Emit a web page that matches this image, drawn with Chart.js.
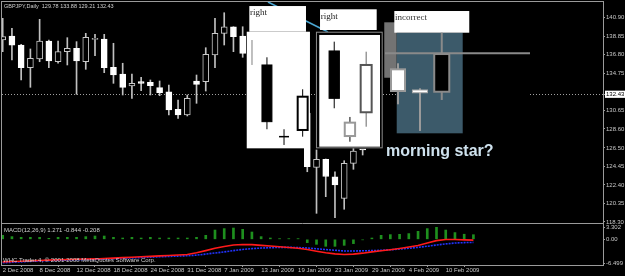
<!DOCTYPE html>
<html>
<head>
<meta charset="utf-8">
<title>GBPJPY Daily</title>
<script src="https://cdn.jsdelivr.net/npm/chart.js@4.4.1/dist/chart.umd.min.js"></script>
<style>
  html, body { margin: 0; padding: 0; background: #000; }
  #chart { display: block; }
</style>
</head>
<body>
<canvas id="chart" width="625" height="276"></canvas>
<script>
// Даты баров
const dates = [
  "2 Dec 2008", "3 Dec 2008", "4 Dec 2008", "5 Dec 2008", "8 Dec 2008", "9 Dec 2008",
  "10 Dec 2008", "11 Dec 2008", "12 Dec 2008", "15 Dec 2008", "16 Dec 2008", "17 Dec 2008",
  "18 Dec 2008", "19 Dec 2008", "22 Dec 2008", "23 Dec 2008", "24 Dec 2008", "26 Dec 2008",
  "29 Dec 2008", "30 Dec 2008", "31 Dec 2008", "2 Jan 2009", "5 Jan 2009", "6 Jan 2009",
  "7 Jan 2009", "8 Jan 2009", "9 Jan 2009", "12 Jan 2009", "13 Jan 2009", "14 Jan 2009",
  "15 Jan 2009", "16 Jan 2009", "19 Jan 2009", "20 Jan 2009", "21 Jan 2009", "22 Jan 2009",
  "23 Jan 2009", "26 Jan 2009", "27 Jan 2009", "28 Jan 2009", "29 Jan 2009", "30 Jan 2009",
  "2 Feb 2009", "3 Feb 2009", "4 Feb 2009", "5 Feb 2009", "6 Feb 2009", "9 Feb 2009",
  "10 Feb 2009", "11 Feb 2009", "12 Feb 2009", "13 Feb 2009"
];

// Свечи (null - бар закрыт вставленными картинками)
const open = [
  138.43, 138.88, 137.88, 135.37, 136.33, 138.32, 136.03, 137.14, 137.52, 136.03,
  138.51, 138.54, 135.41, 134.67, 133.34, 133.82, 133.75, 133.16, 132.71, 130.77,
  130.14, 133.90, 133.82, 136.77, 139.17, 139.90, 138.88,
  null, null, null, null, null, null,
  130.36, 124.35, 125.24, 123.31, 120.92, 124.79, 126.27,
  null, null, null, null, null, null, null, null, null, null, null, null
];
const high = [
  140.83, 139.73, 137.96, 137.44, 140.72, 138.43, 138.32, 138.69, 138.25, 139.17,
  139.06, 139.06, 138.07, 135.86, 134.67, 134.31, 134.01, 133.90, 133.46, 131.80,
  132.35, 134.56, 137.58, 140.83, 141.45, 139.90, 139.90,
  null, null, null, null, null, null,
  130.69, 126.27, 125.27, 123.86, 125.08, 126.45, 126.27,
  null, null, null, null, null, null, null, null, null, null, null, null
];
const low = [
  137.14, 136.22, 134.01, 133.20, 136.03, 135.37, 135.86, 135.67, 132.43, 135.19,
  136.70, 134.82, 133.64, 132.35, 131.98, 132.82, 132.35, 132.27, 130.14, 129.77,
  130.03, 131.43, 132.79, 135.37, 137.88, 137.14, 136.52,
  null, null, null, null, null, null,
  123.86, 119.26, 121.10, 118.78, 119.71, 124.13, 125.71,
  null, null, null, null, null, null, null, null, null, null, null, null
];
const close = [
  138.80, 137.85, 135.37, 136.41, 138.32, 136.11, 137.14, 137.52, 136.11, 138.73,
  138.62, 135.37, 134.56, 133.20, 133.64, 133.64, 133.38, 132.60, 130.69, 130.14,
  131.98, 133.53, 136.85, 139.17, 139.90, 138.80, 136.96,
  null, null, null, null, null, null,
  124.42, 125.24, 123.33, 122.39, 124.79, 126.15, 126.27,
  null, null, null, null, null, null, null, null, null, null, null, null
];

// MACD(12,26,9)
const macdHist = [
  1.10, 0.74, 0.55, 0.55, 0.55, 0.27, 0.55, 0.55, 0.55, 0.74,
  0.91, 0.91, 0.55, 0.36, 0.55, 0.36, 0.55, 0.36, 0.36, 0.36,
  0.36, 0.55, 1.10, 2.55, 2.94, 3.10, 2.75, 2.01, 0.74, 0.36,
  0.19, 0.19, 0.19, -0.91, -1.37, -1.92, -1.92, -1.65, -1.18, -0.14,
  0.36, 1.10, 1.29, 1.37, 1.57, 2.20, 2.94, 3.30, 2.55, 1.85,
  1.40, 1.27
];
const macdMain = [
  -6.20, -6.10, -6.00, -5.90, -5.80, -5.70, -5.62, -5.55, -5.48, -5.42,
  -5.38, -5.25, -5.15, -5.02, -4.90, -4.80, -4.68, -4.55, -4.45, -4.30,
  -4.15, -3.70, -3.10, -2.45, -1.95, -1.55, -1.40, -1.45, -1.65, -1.85,
  -2.05, -2.25, -2.45, -2.80, -3.25, -3.70, -4.00, -4.15, -4.05, -3.80,
  -3.45, -3.15, -2.85, -2.50, -2.10, -1.70, -1.00, -0.35, -0.05, -0.05,
  -0.15, -0.21
];
const macdSignal = [
  -6.45, -6.30, -6.18, -6.05, -5.95, -5.85, -5.75, -5.68, -5.60, -5.55,
  -5.50, -5.40, -5.30, -5.20, -5.10, -5.00, -4.90, -4.80, -4.70, -4.60,
  -4.50, -4.35, -4.05, -3.75, -3.45, -3.10, -2.78, -2.55, -2.40, -2.30,
  -2.22, -2.20, -2.25, -2.38, -2.58, -2.80, -3.00, -3.20, -3.20, -3.15,
  -3.10, -3.02, -2.85, -2.65, -2.45, -2.20, -1.90, -1.57, -1.25, -1.02,
  -0.90, -0.84
];

// Шкалы
const priceTicks = [140.90, 138.85, 136.80, 134.75, 132.43, 130.65, 128.60, 126.50, 124.45, 122.40, 120.35, 118.30];
const lastPrice = 132.43;
const macdTicks = [3.302, 0, -6.499];
const macdTickLabels = ["3.302", "0.00", "-6.499"];
const dateTicks = [0, 4, 8, 12, 16, 20, 24, 28, 32, 36, 40, 44, 48];

// Картинки, вставленные поверх графика (координаты - бар / цена)
const drawings = [
  { kind: "line", x0: 28.74, p0: 142.64, x1: 35.24, p1: 139.32, color: "#4ba7d2", width: 1.5 },
  { kind: "rect", x0: 26.44, x1: 33.29, hi: 139.35, lo: 126.45, fill: "#ffffff" },
  { kind: "rect", x0: 26.72, x1: 32.86, hi: 142.19, lo: 139.35, fill: "#ffffff" },
  { kind: "text", x: 26.79, p: 141.20, text: "right", font: "9px 'Liberation Serif'", color: "#222" },
  { kind: "line", x0: 27.01, p0: 138.43, x1: 27.01, p1: 135.67, color: "#808080", width: 1 },
  { kind: "candle", x: 28.63, w: 1.08, o: 135.67, h: 136.52, l: 128.56, c: 129.40, body: "#000", edge: "#000", wick: "#000" },
  { kind: "candle", x: 30.48, w: 1.08, o: 127.74, h: 128.56, l: 126.82, c: 127.74, body: "#000", edge: "#000", wick: "#000" },
  { kind: "candle", x: 32.50, w: 1.08, o: 128.48, h: 132.98, l: 127.74, c: 132.16, body: "#fff", edge: "#000", wick: "#000", edgeWidth: 2 },

  { kind: "frame", x0: 33.94, x1: 41.17, hi: 139.35, lo: 126.45, fill: "#000", stroke: "#8c8c8c" },
  { kind: "rect", x0: 34.30, x1: 40.88, hi: 138.99, lo: 126.63, fill: "#ffffff" },
  { kind: "rect", x0: 34.38, x1: 40.52, hi: 141.83, lo: 139.54, fill: "#ffffff" },
  { kind: "text", x: 34.45, p: 140.81, text: "right", font: "9px 'Liberation Serif'", color: "#222" },
  { kind: "candle", x: 35.92, w: 1.12, o: 137.22, h: 138.25, l: 130.88, c: 131.98, body: "#000", edge: "#000", wick: "#000" },
  { kind: "candle", x: 37.62, w: 1.12, o: 127.81, h: 129.92, l: 127.18, c: 129.29, body: "#fff", edge: "#999", wick: "#000", edgeWidth: 2 },
  { kind: "candle", x: 39.38, w: 1.19, o: 130.44, h: 137.14, l: 128.84, c: 135.67, body: "#fff", edge: "#555", wick: "#666", edgeWidth: 2 },

  { kind: "rect", x0: 49.84, x1: 57.13, hi: 139.24, lo: 128.11, fill: "#000" },
  { kind: "rect", x0: 41.34, x1: 42.69, hi: 140.39, lo: 134.26, fill: "#737373" },
  { kind: "rect", x0: 42.69, x1: 49.84, hi: 139.24, lo: 128.11, fill: "#3c5a6a" },
  { kind: "rect", x0: 42.43, x1: 50.55, hi: 141.64, lo: 139.24, fill: "#ffffff" },
  { kind: "text", x: 42.50, p: 140.65, text: "incorrect", font: "9px 'Liberation Serif'", color: "#333" },
  { kind: "line", x0: 41.42, p0: 136.96, x1: 57.13, p1: 136.96, color: "#8a8a8a", width: 2 },
  { kind: "candle", x: 42.83, w: 1.52, o: 132.79, h: 135.86, l: 131.32, c: 135.19, body: "#fff", edge: "#9a9a9a", wick: "#9a9a9a", edgeWidth: 2, wickWidth: 2 },
  { kind: "candle", x: 45.21, w: 1.63, o: 132.60, h: 133.09, l: 128.37, c: 132.90, body: "#fff", edge: "#aaa", wick: "#9a9a9a", wickWidth: 2 },
  { kind: "candle", x: 47.57, w: 1.63, o: 136.88, h: 139.24, l: 131.80, c: 132.71, body: "#000", edge: "#8a8a8a", wick: "#8a8a8a", edgeWidth: 2, wickWidth: 2 },
  { kind: "text", x: 41.53, p: 125.55, text: "morning star?", font: "bold 16px 'Liberation Sans'", color: "#cfe2ee" }
];

const bars = dates.map((d, i) => i).filter((i) => open[i] !== null);
const bodies = bars.map((i) => ({ x: i, y: [open[i], close[i]] }));
const wicks = bars.map((i) => ({ x: i, y: [low[i], high[i]] }));
const isUp = (ctx) => ctx.raw && close[ctx.raw.x] > open[ctx.raw.x];

function drawCandle(ctx, X, Y, k) {
  const cx = X(k.x);
  const half = (X(k.x + k.w / 2) - X(k.x - k.w / 2)) / 2;
  ctx.strokeStyle = k.wick;
  ctx.lineWidth = k.wickWidth || 1;
  ctx.beginPath();
  ctx.moveTo(cx, Y(k.h));
  ctx.lineTo(cx, Y(k.l));
  ctx.stroke();
  const top = Y(Math.max(k.o, k.c));
  const bottom = Y(Math.min(k.o, k.c));
  if (bottom - top < 1.5) {
    ctx.strokeStyle = k.edge;
    ctx.lineWidth = 1.5;
    ctx.beginPath();
    ctx.moveTo(cx - half, top);
    ctx.lineTo(cx + half, top);
    ctx.stroke();
    return;
  }
  ctx.fillStyle = k.body;
  ctx.fillRect(cx - half, top, half * 2, bottom - top);
  ctx.strokeStyle = k.edge;
  ctx.lineWidth = k.edgeWidth || 1;
  ctx.strokeRect(cx - half, top, half * 2, bottom - top);
}

const terminal = {
  id: "terminal",
  beforeDraw(chart) {
    const ctx = chart.ctx;
    ctx.save();
    ctx.fillStyle = "#000";
    ctx.fillRect(0, 0, chart.width, chart.height);
    ctx.restore();
  },
  beforeDatasetsDraw(chart) {
    const { ctx, chartArea, scales } = chart;
    const yy = Math.round(scales.y.getPixelForValue(lastPrice)) + 0.5;
    ctx.save();
    ctx.strokeStyle = "#a0a0a0";
    ctx.lineWidth = 1;
    ctx.setLineDash([1, 2]);
    ctx.beginPath();
    ctx.moveTo(chartArea.left, yy);
    ctx.lineTo(chartArea.right, yy);
    ctx.stroke();
    ctx.restore();
  },
  afterDatasetsDraw(chart) {
    const { ctx, scales } = chart;
    const X = (v) => scales.x.getPixelForValue(v);
    const Y = (v) => scales.y.getPixelForValue(v);
    ctx.save();
    drawings.forEach((d) => {
      if (d.kind === "rect" || d.kind === "frame") {
        ctx.fillStyle = d.fill;
        ctx.fillRect(X(d.x0), Y(d.hi), X(d.x1) - X(d.x0), Y(d.lo) - Y(d.hi));
        if (d.stroke) {
          ctx.strokeStyle = d.stroke;
          ctx.lineWidth = 1;
          ctx.strokeRect(X(d.x0) + 0.5, Y(d.hi) + 0.5, X(d.x1) - X(d.x0) - 1, Y(d.lo) - Y(d.hi) - 1);
        }
      } else if (d.kind === "line") {
        ctx.strokeStyle = d.color;
        ctx.lineWidth = d.width;
        ctx.beginPath();
        ctx.moveTo(X(d.x0), Y(d.p0));
        ctx.lineTo(X(d.x1), Y(d.p1));
        ctx.stroke();
      } else if (d.kind === "candle") {
        drawCandle(ctx, X, Y, d);
      } else if (d.kind === "text") {
        ctx.font = d.font;
        ctx.fillStyle = d.color;
        ctx.textBaseline = "alphabetic";
        ctx.fillText(d.text, X(d.x), Y(d.p));
      }
    });
    ctx.restore();
  },
  afterDraw(chart) {
    const { ctx, chartArea, scales } = chart;
    ctx.save();
    ctx.strokeStyle = "#9a9a9a";
    ctx.lineWidth = 1;
    ctx.strokeRect(chartArea.left - 0.5, chartArea.top - 0.5, chartArea.right - chartArea.left + 1, chartArea.bottom - chartArea.top + 1);
    const sep = Math.round(scales.y2.top) + 0.5;
    ctx.beginPath();
    ctx.moveTo(chartArea.left, sep);
    ctx.lineTo(chartArea.right, sep);
    ctx.stroke();

    ctx.font = "5.5px 'Liberation Sans'";
    ctx.fillStyle = "#d0d0d0";
    ctx.textBaseline = "middle";
    ctx.fillText("GBPJPY,Daily  129.78 133.88 129.21 132.43", chartArea.left + 2, chartArea.top + 4);
    ctx.font = "6px 'Liberation Sans'";
    ctx.fillText("MACD(12,26,9) 1.271 -0.844 -0.208", chartArea.left + 2, scales.y2.top + 7);
    ctx.fillText("WHC Trader 4, \u00a9 2001-2008 MetaQuotes Software Corp.", chartArea.left + 1, scales.y2.bottom - 5);
    ctx.restore();
  }
};

Chart.defaults.font.family = "'Liberation Sans', Arial, sans-serif";
Chart.defaults.font.size = 6;
Chart.defaults.color = "#c8c8c8";

const chart = new Chart(document.getElementById("chart"), {
  type: "bar",
  data: {
    datasets: [
      {
        type: "line",
        data: macdMain.map((v, i) => ({ x: i, y: v })),
        yAxisID: "y2",
        borderColor: "#ff1a1a",
        borderWidth: 1.6,
        pointRadius: 0,
        order: 1
      },
      {
        type: "line",
        data: macdSignal.map((v, i) => ({ x: i, y: v })),
        yAxisID: "y2",
        borderColor: "#2233ff",
        borderWidth: 1.6,
        borderDash: [2, 1],
        pointRadius: 0,
        order: 2
      },
      {
        data: macdHist.map((v, i) => ({ x: i, y: v })),
        yAxisID: "y2",
        backgroundColor: "#1e8f1e",
        barThickness: 2,
        grouped: false,
        order: 3
      },
      {
        data: bodies,
        yAxisID: "y",
        backgroundColor: (ctx) => (isUp(ctx) ? "#000000" : "#ffffff"),
        borderColor: (ctx) => (isUp(ctx) ? "#c8c8c8" : "#ffffff"),
        borderWidth: 1,
        borderSkipped: false,
        barThickness: 6,
        minBarLength: 1,
        grouped: false,
        order: 4
      },
      {
        data: wicks,
        yAxisID: "y",
        backgroundColor: "#c0c0c0",
        barThickness: 1,
        grouped: false,
        order: 5
      }
    ]
  },
  options: {
    responsive: false,
    animation: false,
    events: [],
    layout: { padding: { left: 2, top: 2, right: 0, bottom: 0 } },
    plugins: {
      legend: { display: false },
      tooltip: { enabled: false }
    },
    scales: {
      x: {
        type: "linear",
        min: -0.076,
        max: 65.04,
        offset: false,
        grid: { drawOnChartArea: false, drawTicks: true, tickLength: 2, color: "#9a9a9a" },
        border: { display: false },
        ticks: {
          autoSkip: false,
          maxRotation: 0,
          align: "start",
          padding: 0,
          color: "#c8c8c8",
          callback: (v) => dates[v]
        },
        afterBuildTicks: (scale) => {
          scale.ticks = dateTicks.map((v) => ({ value: v }));
        },
        afterFit: (scale) => {
          scale.height = 11;
          scale.paddingLeft = 0;
          scale.paddingRight = 0;
        }
      },
      y: {
        type: "linear",
        position: "right",
        stack: "panes",
        stackWeight: 221,
        min: 118.189,
        max: 142.637,
        grid: { drawOnChartArea: false, drawTicks: true, tickLength: 2, color: "#9a9a9a" },
        border: { display: false },
        ticks: {
          padding: 1,
          color: (ctx) => (ctx.tick && ctx.tick.value === lastPrice ? "#000" : "#c8c8c8"),
          showLabelBackdrop: (ctx) => !!(ctx.tick && ctx.tick.value === lastPrice),
          backdropColor: "#ffffff",
          backdropPadding: { left: 1, right: 2, top: 0, bottom: 0 },
          callback: (v) => v.toFixed(2)
        },
        afterBuildTicks: (scale) => {
          scale.ticks = priceTicks.map((v) => ({ value: v }));
        },
        afterFit: (scale) => {
          scale.width = 22;
          scale.paddingTop = 0;
          scale.paddingBottom = 0;
        }
      },
      y2: {
        type: "linear",
        position: "right",
        stack: "panes",
        stackWeight: 42,
        min: -7.048,
        max: 4.482,
        grid: { drawOnChartArea: false, drawTicks: true, tickLength: 2, color: "#9a9a9a" },
        border: { display: false },
        ticks: {
          padding: 1,
          color: "#c8c8c8",
          callback: (v, i) => macdTickLabels[i]
        },
        afterBuildTicks: (scale) => {
          scale.ticks = macdTicks.map((v) => ({ value: v }));
        },
        afterFit: (scale) => {
          scale.width = 22;
          scale.paddingTop = 0;
          scale.paddingBottom = 0;
        }
      }
    }
  },
  plugins: [terminal]
});
</script>
</body>
</html>
